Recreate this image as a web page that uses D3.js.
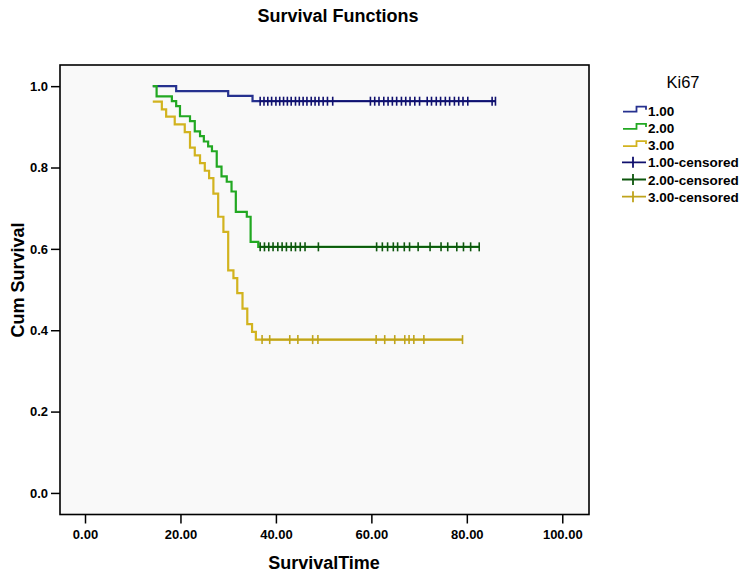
<!DOCTYPE html>
<html><head><meta charset="utf-8">
<script src="https://cdn.jsdelivr.net/npm/d3@7"></script>
<style>body{margin:0;background:#fff}svg{display:block}text{font-family:"Liberation Sans",Arial,sans-serif}</style>
</head><body><svg id="c" width="750" height="581"></svg>
<script>
// ---- data ----
const xTicks=[0,20,40,60,80,100];
const yTicks=[0,0.2,0.4,0.6,0.8,1.0];
const groupNames=["1.00","2.00","3.00"];
const censorNames=["1.00-censored","2.00-censored","3.00-censored"];

const ki1Time=[14.2,19.1,30.0,35.1];
const ki1Surv=[1.0,0.988,0.976,0.963];
const ki1Cens=[36.7,37.5,38.3,39.1,40.0,40.8,41.6,42.4,43.2,44.1,44.9,45.7,46.5,47.4,48.2,49.0,49.9,50.8,51.9,
  59.8,60.7,61.6,62.6,63.5,64.4,65.3,66.3,67.2,68.1,69.1,70.1,
  71.7,72.6,73.6,74.5,75.5,76.4,77.4,78.3,79.2,80.2,85.3,86.0];

const ki2Time=[14.2,15.0,18.2,19.1,19.9,22.0,23.0,24.1,24.9,25.8,26.6,27.6,28.6,29.7,30.7,31.6,33.9,34.7,36.3];
const ki2Surv=[1.0,0.975,0.963,0.951,0.926,0.914,0.889,0.877,0.864,0.852,0.840,0.802,0.778,0.765,0.741,0.691,0.679,0.617,0.605];
const ki2Cens=[36.7,37.6,38.5,39.4,40.4,41.3,42.2,43.2,44.1,45.1,46.1,48.9,
  61.1,62.3,63.4,64.6,65.5,66.9,68.0,69.8,72.3,74.6,76.0,77.9,79.3,80.8,82.6];

const ki3Time=[14.2,16.1,17.0,18.8,20.9,22.0,23.0,24.1,25.1,26.0,26.9,27.9,29.0,30.0,31.1,31.9,33.0,34.0,35.0,35.8];
const ki3Surv=[0.962,0.943,0.925,0.906,0.887,0.849,0.830,0.811,0.792,0.774,0.736,0.679,0.642,0.547,0.528,0.491,0.453,0.415,0.396,0.377];
const ki3Cens=[37.1,38.7,42.9,44.6,47.7,48.8,61.0,62.8,64.9,67.0,67.9,68.9,71.0,79.1];

const lineColors=["#26318f","#22a822","#d2b31f"];
const censColors=["#10106e","#0d560d","#bfa41c"];

// ---- layout ----
const svg=d3.select("#c");
const L=60,R=589,T=65,B=514.5;
const x=d3.scaleLinear().domain([-5.24,105.6]).range([L,R]);
const y=d3.scaleLinear().domain([-0.053,1.052]).range([B,T]);

svg.append("text").attr("x",338).attr("y",22).attr("text-anchor","middle")
  .attr("font-size",18).attr("font-weight","bold").text("Survival Functions");

svg.append("rect").attr("x",L).attr("y",T).attr("width",R-L).attr("height",B-T)
  .attr("fill","#f9f9f9").attr("stroke","none");

const gx=svg.append("g").attr("transform",`translate(0,${B})`)
  .call(d3.axisBottom(x).tickValues(xTicks).tickFormat(d3.format(".2f")).tickSize(9).tickSizeOuter(0));
const gy=svg.append("g").attr("transform",`translate(${L},0)`)
  .call(d3.axisLeft(y).tickValues(yTicks).tickFormat(d3.format(".1f")).tickSize(9).tickSizeOuter(0));
[gx,gy].forEach(g=>{
  g.select(".domain").remove();
  g.selectAll(".tick line").attr("stroke","#000").attr("stroke-width",1.5);
  g.selectAll(".tick text").attr("font-size",13).attr("font-weight","bold").attr("fill","#000")
   .attr("font-family",'"Liberation Sans",Arial,sans-serif');
});
gx.selectAll(".tick text").attr("dy","0.95em").attr("y",12);
gy.selectAll(".tick text").attr("x",-12);

svg.append("text").attr("x",324).attr("y",569).attr("text-anchor","middle")
  .attr("font-size",18).attr("font-weight","bold").text("SurvivalTime");
svg.append("text").attr("transform","translate(24,280) rotate(-90)").attr("text-anchor","middle")
  .attr("font-size",18).attr("font-weight","bold").text("Cum Survival");

// ---- curves ----
const series=[[ki1Time,ki1Surv,ki1Cens],[ki2Time,ki2Surv,ki2Cens],[ki3Time,ki3Surv,ki3Cens]];
const plot=svg.append("g");
function survAt(times,surv,t){let s=surv[0];for(let i=0;i<times.length;i++){if(times[i]<=t)s=surv[i];}return s;}
const line=d3.line().x(d=>x(d[0])).y(d=>y(d[1])).curve(d3.curveStepAfter);
series.forEach(([tm,sv,cs],gi)=>{
  const pts=tm.map((t,i)=>[t,sv[i]]);
  const last=cs[cs.length-1];
  pts.push([last,sv[sv.length-1]]);
  plot.append("path").attr("d",line(pts)).attr("fill","none").attr("stroke",lineColors[gi]).attr("stroke-width",2.2);
});
series.forEach(([tm,sv,cs],gi)=>{
  const cp=cs.map(t=>[t,survAt(tm,sv,t)]);
  plot.append("path").attr("d",d3.line().x(d=>x(d[0])).y(d=>y(d[1]))(cp))
    .attr("fill","none").attr("stroke",censColors[gi]).attr("stroke-width",1.6);
  plot.selectAll(null).data(cp).enter().append("line")
    .attr("x1",d=>x(d[0])).attr("x2",d=>x(d[0]))
    .attr("y1",d=>y(d[1])-4.5).attr("y2",d=>y(d[1])+4.5)
    .attr("stroke",censColors[gi]).attr("stroke-width",1.6);
});

// frame
svg.append("rect").attr("x",L).attr("y",T).attr("width",R-L).attr("height",B-T)
  .attr("fill","none").attr("stroke","#000").attr("stroke-width",1.6);

// ---- legend ----
const lg=svg.append("g");
lg.append("text").attr("x",683).attr("y",88).attr("text-anchor","middle").attr("font-size",16.5).text("Ki67");
const rowY=[110.7,127.9,145.1,162.3,179.5,196.7];
groupNames.forEach((n,i)=>{
  const cy=rowY[i];
  lg.append("path").attr("d",`M623,${cy+1}H636.5V${cy-4}H646V${cy-1}`)
    .attr("fill","none").attr("stroke",lineColors[i]).attr("stroke-width",1.8);
  lg.append("text").attr("x",648).attr("y",cy+5).attr("font-size",13.5).attr("font-weight","bold").text(n);
});
censorNames.forEach((n,i)=>{
  const cy=rowY[i+3];
  lg.append("path").attr("d",`M622,${cy}H646M633,${cy-5.5}V${cy+5.5}`)
    .attr("fill","none").attr("stroke",censColors[i]).attr("stroke-width",1.8);
  lg.append("text").attr("x",648).attr("y",cy+5).attr("font-size",13.5).attr("font-weight","bold").text(n);
});
</script></body></html>
